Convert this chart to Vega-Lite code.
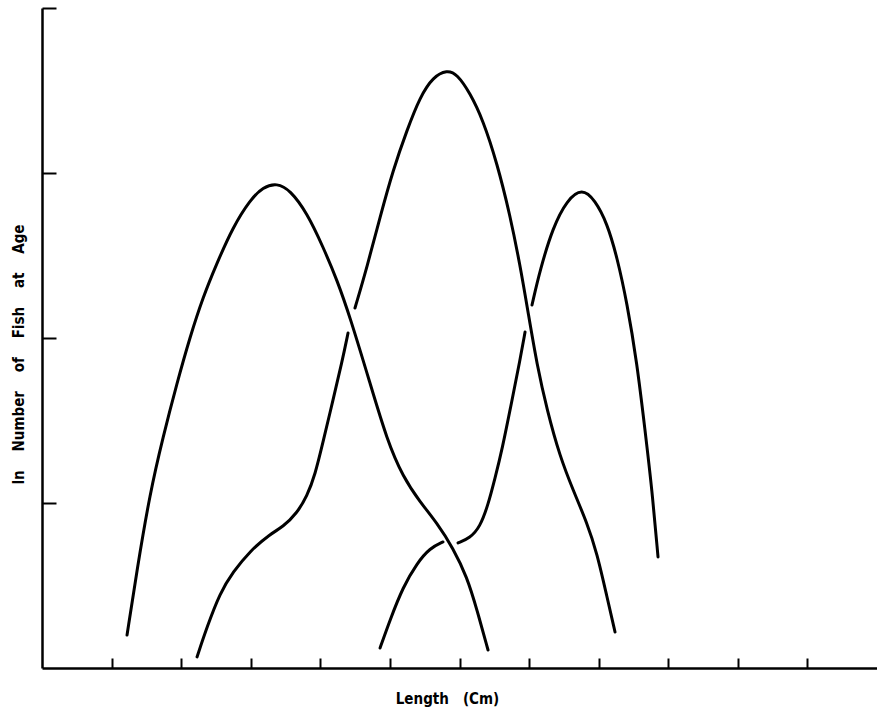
{
  "$schema": "https://vega.github.io/schema/vega-lite/v6.json",
  "width": 835,
  "height": 660,
  "autosize": {"type": "none"},
  "padding": {"left": 42, "top": 8, "right": 0, "bottom": 47},
  "background": "white",
  "config": {
    "view": {"stroke": null},
    "axis": {"domainColor": "black", "domainWidth": 2.5, "tickColor": "black", "tickWidth": 2, "grid": false, "labels": false,
      "titleFont": "DejaVu Sans Condensed, DejaVu Sans, Liberation Sans", "titleFontWeight": "bold", "titleColor": "black"}
  },
  "data": {"values": [
    {"curve": "A", "part": 1, "len": 1.222, "ln": 0.200},
    {"curve": "A", "part": 1, "len": 1.365, "ln": 0.594},
    {"curve": "A", "part": 1, "len": 1.552, "ln": 1.061},
    {"curve": "A", "part": 1, "len": 1.739, "ln": 1.400},
    {"curve": "A", "part": 1, "len": 1.940, "ln": 1.727},
    {"curve": "A", "part": 1, "len": 2.127, "ln": 2.006},
    {"curve": "A", "part": 1, "len": 2.314, "ln": 2.248},
    {"curve": "A", "part": 1, "len": 2.515, "ln": 2.455},
    {"curve": "A", "part": 1, "len": 2.745, "ln": 2.673},
    {"curve": "A", "part": 1, "len": 2.989, "ln": 2.836},
    {"curve": "A", "part": 1, "len": 3.176, "ln": 2.915},
    {"curve": "A", "part": 1, "len": 3.377, "ln": 2.939},
    {"curve": "A", "part": 1, "len": 3.564, "ln": 2.897},
    {"curve": "A", "part": 1, "len": 3.809, "ln": 2.758},
    {"curve": "A", "part": 1, "len": 4.039, "ln": 2.552},
    {"curve": "A", "part": 1, "len": 4.240, "ln": 2.352},
    {"curve": "A", "part": 1, "len": 4.427, "ln": 2.127},
    {"curve": "A", "part": 1, "len": 4.714, "ln": 1.727},
    {"curve": "A", "part": 1, "len": 4.958, "ln": 1.382},
    {"curve": "A", "part": 1, "len": 5.188, "ln": 1.158},
    {"curve": "A", "part": 1, "len": 5.433, "ln": 1.006},
    {"curve": "A", "part": 1, "len": 5.677, "ln": 0.879},
    {"curve": "A", "part": 1, "len": 5.907, "ln": 0.727},
    {"curve": "A", "part": 1, "len": 6.108, "ln": 0.552},
    {"curve": "A", "part": 1, "len": 6.252, "ln": 0.352},
    {"curve": "A", "part": 1, "len": 6.410, "ln": 0.109},

    {"curve": "B", "part": 1, "len": 2.228, "ln": 0.067},
    {"curve": "B", "part": 1, "len": 2.371, "ln": 0.248},
    {"curve": "B", "part": 1, "len": 2.558, "ln": 0.455},
    {"curve": "B", "part": 1, "len": 2.745, "ln": 0.582},
    {"curve": "B", "part": 1, "len": 2.989, "ln": 0.709},
    {"curve": "B", "part": 1, "len": 3.277, "ln": 0.812},
    {"curve": "B", "part": 1, "len": 3.464, "ln": 0.855},
    {"curve": "B", "part": 1, "len": 3.665, "ln": 0.939},
    {"curve": "B", "part": 1, "len": 3.809, "ln": 1.042},
    {"curve": "B", "part": 1, "len": 3.924, "ln": 1.170},
    {"curve": "B", "part": 1, "len": 4.039, "ln": 1.370},
    {"curve": "B", "part": 1, "len": 4.182, "ln": 1.624},
    {"curve": "B", "part": 1, "len": 4.312, "ln": 1.855},
    {"curve": "B", "part": 1, "len": 4.398, "ln": 2.030},
    {"curve": "B", "part": 2, "len": 4.498, "ln": 2.182},
    {"curve": "B", "part": 2, "len": 4.671, "ln": 2.430},
    {"curve": "B", "part": 2, "len": 4.858, "ln": 2.733},
    {"curve": "B", "part": 2, "len": 5.045, "ln": 3.018},
    {"curve": "B", "part": 2, "len": 5.246, "ln": 3.261},
    {"curve": "B", "part": 2, "len": 5.433, "ln": 3.461},
    {"curve": "B", "part": 2, "len": 5.619, "ln": 3.582},
    {"curve": "B", "part": 2, "len": 5.821, "ln": 3.624},
    {"curve": "B", "part": 2, "len": 5.964, "ln": 3.600},
    {"curve": "B", "part": 2, "len": 6.151, "ln": 3.485},
    {"curve": "B", "part": 2, "len": 6.338, "ln": 3.321},
    {"curve": "B", "part": 2, "len": 6.539, "ln": 3.061},
    {"curve": "B", "part": 2, "len": 6.726, "ln": 2.745},
    {"curve": "B", "part": 2, "len": 6.870, "ln": 2.442},
    {"curve": "B", "part": 2, "len": 6.985, "ln": 2.158},
    {"curve": "B", "part": 2, "len": 7.114, "ln": 1.836},
    {"curve": "B", "part": 2, "len": 7.258, "ln": 1.564},
    {"curve": "B", "part": 2, "len": 7.445, "ln": 1.279},
    {"curve": "B", "part": 2, "len": 7.632, "ln": 1.079},
    {"curve": "B", "part": 2, "len": 7.833, "ln": 0.879},
    {"curve": "B", "part": 2, "len": 7.976, "ln": 0.697},
    {"curve": "B", "part": 2, "len": 8.120, "ln": 0.430},
    {"curve": "B", "part": 2, "len": 8.235, "ln": 0.218},

    {"curve": "C", "part": 1, "len": 4.858, "ln": 0.121},
    {"curve": "C", "part": 1, "len": 5.001, "ln": 0.291},
    {"curve": "C", "part": 1, "len": 5.188, "ln": 0.491},
    {"curve": "C", "part": 1, "len": 5.390, "ln": 0.636},
    {"curve": "C", "part": 1, "len": 5.576, "ln": 0.727},
    {"curve": "C", "part": 1, "len": 5.763, "ln": 0.764},
    {"curve": "C", "part": 2, "len": 5.979, "ln": 0.758},
    {"curve": "C", "part": 2, "len": 6.151, "ln": 0.788},
    {"curve": "C", "part": 2, "len": 6.295, "ln": 0.855},
    {"curve": "C", "part": 2, "len": 6.410, "ln": 0.988},
    {"curve": "C", "part": 2, "len": 6.511, "ln": 1.152},
    {"curve": "C", "part": 2, "len": 6.611, "ln": 1.321},
    {"curve": "C", "part": 2, "len": 6.755, "ln": 1.624},
    {"curve": "C", "part": 2, "len": 6.870, "ln": 1.867},
    {"curve": "C", "part": 2, "len": 6.942, "ln": 2.036},
    {"curve": "C", "part": 3, "len": 7.042, "ln": 2.200},
    {"curve": "C", "part": 3, "len": 7.157, "ln": 2.412},
    {"curve": "C", "part": 3, "len": 7.344, "ln": 2.673},
    {"curve": "C", "part": 3, "len": 7.545, "ln": 2.836},
    {"curve": "C", "part": 3, "len": 7.761, "ln": 2.909},
    {"curve": "C", "part": 3, "len": 7.948, "ln": 2.836},
    {"curve": "C", "part": 3, "len": 8.120, "ln": 2.697},
    {"curve": "C", "part": 3, "len": 8.264, "ln": 2.491},
    {"curve": "C", "part": 3, "len": 8.408, "ln": 2.212},
    {"curve": "C", "part": 3, "len": 8.551, "ln": 1.848},
    {"curve": "C", "part": 3, "len": 8.666, "ln": 1.442},
    {"curve": "C", "part": 3, "len": 8.767, "ln": 1.079},
    {"curve": "C", "part": 3, "len": 8.853, "ln": 0.673}
  ]},
  "mark": {"type": "line", "color": "black", "strokeWidth": 3, "strokeCap": "round", "interpolate": "basis"},
  "encoding": {
    "x": {"field": "len", "type": "quantitative", "scale": {"domain": [0, 12], "nice": false, "zero": false},
      "axis": {"values": [1, 2, 3, 4, 5, 6, 7, 8, 9, 10, 11], "tickSize": -10, "title": "Length\u00a0\u00a0\u00a0(Cm)",
        "titleFontSize": 15, "titleX": 405, "titleY": 35, "titleAlign": "center", "titleBaseline": "alphabetic"}},
    "y": {"field": "ln", "type": "quantitative", "scale": {"domain": [0, 4], "nice": false, "zero": false},
      "axis": {"values": [1, 2, 3, 4], "tickSize": -14, "title": "ln\u00a0\u00a0\u00a0\u00a0Number\u00a0\u00a0\u00a0\u00a0of\u00a0\u00a0\u00a0\u00a0Fish\u00a0\u00a0\u00a0\u00a0at\u00a0\u00a0\u00a0\u00a0Age",
        "titleFontSize": 15, "titleAngle": -90, "titleX": -24, "titleY": 346, "titleAlign": "center", "titleBaseline": "middle"}},
    "detail": [{"field": "curve"}, {"field": "part"}],
    "order": {"field": "len", "type": "quantitative"}
  }
}
